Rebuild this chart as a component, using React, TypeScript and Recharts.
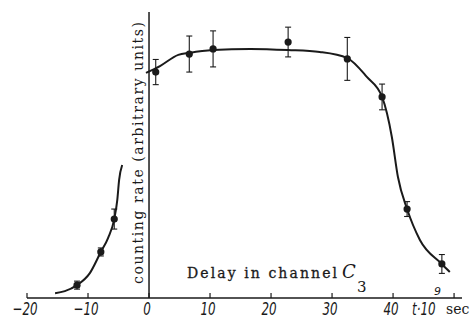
import React from "react";
import {
  ComposedChart,
  Line,
  Scatter,
  XAxis,
  YAxis,
  ErrorBar,
  ReferenceLine,
} from "recharts";

// Measured points (delay in ns, counting rate in arbitrary units)
const pointX = [-11.8, -7.9, -5.7, 1.1, 6.6, 10.5, 22.8, 32.5, 38.2, 42.3, 48.0];
const pointY = [4.5, 16.1, 27.6, 79.0, 85.3, 87.1, 89.5, 83.6, 70.3, 31.1, 11.9];
const pointErr = [1.4, 1.4, 3.5, 4.4, 6.3, 6.3, 5.2, 7.5, 4.5, 2.6, 3.3];

// Smooth hand-drawn curve, left rising branch
const leftCurveX = [-15.4, -13.8, -11.8, -9.7, -7.9, -6.7, -5.7, -5.2, -4.9, -4.4];
const leftCurveY = [1.7, 2.4, 4.5, 8.7, 16.1, 21.0, 27.6, 34.3, 41.3, 46.5];

// Plateau and falling branch
const mainCurveX = [-0.5, 1.8, 4.8, 6.6, 10.5, 16.6, 22.8, 28.0, 32.5, 35.7, 38.2, 39.8, 40.8, 42.3, 44.4, 48.0, 49.3];
const mainCurveY = [78.7, 81.1, 85.0, 85.7, 86.7, 87.1, 86.7, 86.0, 83.9, 77.3, 70.3, 56.3, 42.3, 31.1, 20.3, 11.9, 9.1];

const xTicks = [-20, -10, 0, 10, 20, 30, 40, 50];
const xTickLabels = ["\u221220", "\u221210", "0", "10", "20", "30", "40", ""];

const points = pointX.map((x, i) => ({ x, y: pointY[i], err: pointErr[i] }));
const leftCurve = leftCurveX.map((x, i) => ({ x, y: leftCurveY[i] }));
const mainCurve = mainCurveX.map((x, i) => ({ x, y: mainCurveY[i] }));

const INK = "#1a1a1a";

const Tick = (props: any) => {
  const { x, y, payload } = props;
  const idx = xTicks.indexOf(payload.value);
  const label = idx >= 0 ? xTickLabels[idx] : "";
  return (
    <g>
      <line x1={x} y1={y - 5} x2={x} y2={y} stroke={INK} strokeWidth={1.2} />
      {label !== "" && (
        <text
          transform={`translate(${x - 2},${y + 17}) scale(0.66,1)`}
          textAnchor="middle"
          fontSize={18}
          fontStyle="italic"
          fontFamily="DejaVu Sans"
          fill={INK}
        >
          {label}
        </text>
      )}
    </g>
  );
};

const Dot = (props: any) => {
  const { cx, cy } = props;
  if (cx == null || cy == null) return null;
  return <circle cx={cx} cy={cy} r={3.6} fill={INK} />;
};

export default function App() {
  return (
    <div style={{ position: "absolute", left: 0, top: 0, width: 475, height: 323, background: "#fff" }}>
      <ComposedChart
        width={475}
        height={323}
        margin={{ top: 12, right: 13, bottom: 0, left: 27 }}
      >
        <XAxis
          type="number"
          dataKey="x"
          domain={[-20, 51.3]}
          ticks={xTicks}
          allowDataOverflow
          height={25}
          tickSize={0}
          tickMargin={0}
          tickLine={false}
          axisLine={{ stroke: INK, strokeWidth: 1.5 }}
          tick={<Tick />}
        />
        <YAxis type="number" dataKey="y" domain={[0, 100]} hide />
        <ReferenceLine x={0} stroke={INK} strokeWidth={1.5} ifOverflow="extendDomain" />
        <Line
          data={leftCurve}
          dataKey="y"
          type="monotone"
          stroke={INK}
          strokeWidth={2}
          dot={false}
          isAnimationActive={false}
        />
        <Line
          data={mainCurve}
          dataKey="y"
          type="monotone"
          stroke={INK}
          strokeWidth={2}
          dot={false}
          isAnimationActive={false}
        />
        <Scatter data={points} dataKey="y" shape={<Dot />} isAnimationActive={false}>
          <ErrorBar dataKey="err" direction="y" width={3} stroke={INK} strokeWidth={1.1} />
        </Scatter>
        <text x={138} y={153} transform="rotate(-90 138 153)" textAnchor="middle"
          dominantBaseline="central" fontFamily="DejaVu Serif" fontSize={14} fill={INK}
          textLength={262} lengthAdjust="spacing">
          counting rate (arbitrary units)
        </text>
        <text x={187} y={278} fontFamily="DejaVu Serif" fontSize={14} fill={INK}
          stroke={INK} strokeWidth={0.3} textLength={150} lengthAdjust="spacing">
          Delay in channel
        </text>
        <text x={342} y={278} fontFamily="DejaVu Serif" fontStyle="italic" fontSize={18} fill={INK}>
          C
        </text>
        <text x={357} y={292} fontFamily="DejaVu Serif" fontSize={15} fill={INK}>
          3
        </text>
        <text transform="translate(412,315) scale(0.66,1)" fontFamily="DejaVu Sans"
          fontStyle="italic" fontSize={18} fill={INK}>
          t·10
        </text>
        <text x={434} y={295} fontFamily="DejaVu Sans" fontStyle="italic" fontSize={11} fill={INK}>
          9
        </text>
        <text x={446} y={314} fontFamily="DejaVu Serif" fontSize={14} fill={INK}>
          sec
        </text>
      </ComposedChart>
    </div>
  );
}
